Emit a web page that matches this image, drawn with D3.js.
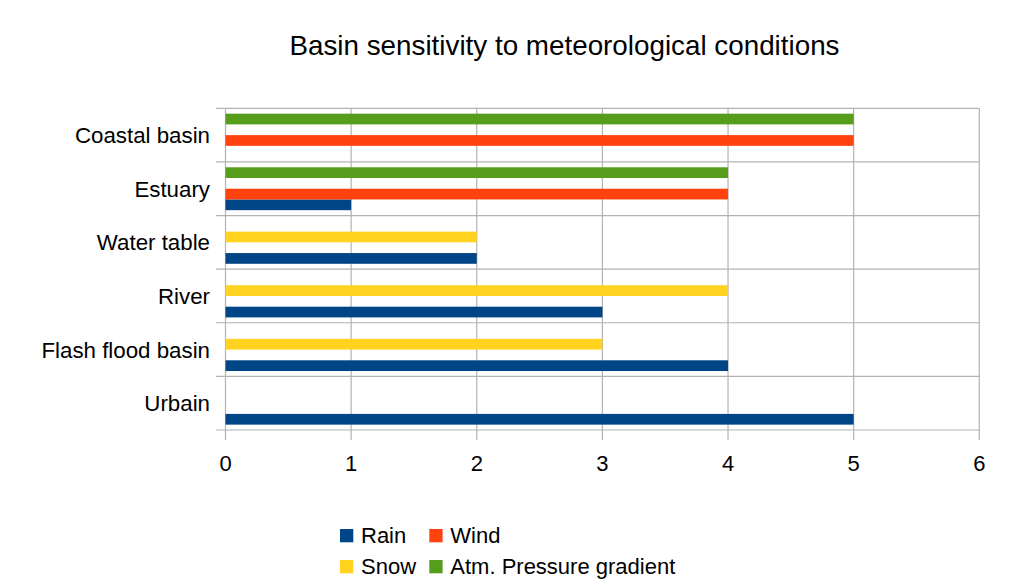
<!DOCTYPE html>
<html>
<head>
<meta charset="utf-8">
<script src="https://cdn.jsdelivr.net/npm/d3@7"></script>
<style>
    body { margin: 0; background: #fff; }
    text { font-family: "Liberation Sans", Arial, sans-serif; fill: #000; }
</style>
</head>
<body>
<svg id="chart"></svg>
<script>
const categories = ["Coastal basin", "Estuary", "Water table", "River", "Flash flood basin", "Urbain"];
const seriesNames = ["Rain", "Wind", "Snow", "Atm. Pressure gradient"];
const seriesColors = ["#004586", "#ff420e", "#ffd320", "#579d1c"];
const rain = [0, 1, 2, 3, 4, 5];
const wind = [5, 4, 0, 0, 0, 0];
const snow = [0, 0, 2, 4, 3, 0];
const atm = [5, 4, 0, 0, 0, 0];
const xTicks = [0, 1, 2, 3, 4, 5, 6];

const width = 1014,
    height = 583;
const margin = { top: 108.3, right: 34.7, bottom: 153, left: 225.5 };

const svg = d3.select("#chart").attr("width", width).attr("height", height);

const seriesValues = [rain, wind, snow, atm];
const rows = categories.map((c, i) => ({
    category: c,
    values: seriesNames.map((s, j) => ({ series: s, value: seriesValues[j][i], color: seriesColors[j] }))
}));

const x = d3.scaleLinear().domain([0, 6]).range([margin.left, width - margin.right]);
const y = d3.scaleBand().domain(categories).range([margin.top, height - margin.bottom]).padding(0);
// top of each group is the last series (Atm), bottom is Rain
const ySeries = d3
    .scaleBand()
    .domain(seriesNames.slice().reverse())
    .range([0, y.bandwidth()])
    .paddingInner(0)
    .paddingOuter(0.5);

const grid = "#b3b3b3";
const plotTop = y.range()[0],
    plotBottom = y.range()[1];

// horizontal lines at band edges
const edges = categories.map(c => y(c)).concat([plotBottom]);
svg.append("g")
    .selectAll("line")
    .data(edges)
    .enter()
    .append("line")
    .attr("x1", x(0) - 9.5)
    .attr("x2", x(6))
    .attr("y1", d => d)
    .attr("y2", d => d)
    .attr("stroke", grid)
    .attr("stroke-width", 1.2);

// vertical grid + ticks
svg.append("g")
    .selectAll("line")
    .data(xTicks)
    .enter()
    .append("line")
    .attr("x1", d => x(d))
    .attr("x2", d => x(d))
    .attr("y1", plotTop)
    .attr("y2", plotBottom + 10)
    .attr("stroke", grid)
    .attr("stroke-width", 1.2);

// bars
const groups = svg.append("g")
    .selectAll("g")
    .data(rows)
    .enter()
    .append("g")
    .attr("transform", d => "translate(0," + y(d.category) + ")");

groups.selectAll("rect")
    .data(d => d.values.filter(v => v.value > 0))
    .enter()
    .append("rect")
    .attr("x", x(0))
    .attr("y", d => ySeries(d.series))
    .attr("width", d => x(d.value) - x(0))
    .attr("height", ySeries.bandwidth())
    .attr("fill", d => d.color);

// x tick labels
svg.append("g")
    .selectAll("text")
    .data(xTicks)
    .enter()
    .append("text")
    .attr("x", d => x(d))
    .attr("y", 471)
    .attr("text-anchor", "middle")
    .style("font-size", "22px")
    .text(d => d);

// category labels
svg.append("g")
    .selectAll("text")
    .data(categories)
    .enter()
    .append("text")
    .attr("x", 210)
    .attr("y", d => y(d) + y.bandwidth() / 2 + 8)
    .attr("text-anchor", "end")
    .style("font-size", "22.3px")
    .text(d => d);

// title
svg.append("text")
    .attr("x", 564.5)
    .attr("y", 54.5)
    .attr("text-anchor", "middle")
    .style("font-size", "27.8px")
    .text("Basin sensitivity to meteorological conditions");

// legend, two columns, two rows
const legendCols = [340, 429.3];
const legendRows = [529, 560];
const legend = svg.append("g")
    .selectAll("g")
    .data(seriesNames)
    .enter()
    .append("g")
    .attr("transform", (d, i) => "translate(" + legendCols[i % 2] + "," + legendRows[Math.floor(i / 2)] + ")");

legend.append("rect")
    .attr("width", 13.3)
    .attr("height", 13.3)
    .attr("fill", (d, i) => seriesColors[i]);

legend.append("text")
    .attr("x", 21)
    .attr("y", 14)
    .style("font-size", "22px")
    .text(d => d);
</script>
</body>
</html>
